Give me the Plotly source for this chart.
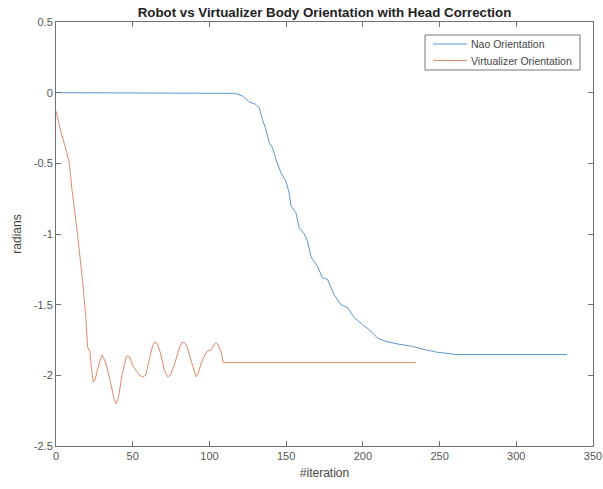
import plotly.graph_objects as go

# Nao orientation (blue)
nao_x = [1, 106, 112, 117, 121.6, 126, 130.3, 132.4, 134.6, 136.8, 139, 141.1, 143.3, 146.6,
         149.8, 152, 153.1, 156.4, 158.5, 161.8, 163.9, 166.1, 167.2, 170.4, 173.7, 176.9,
         181.3, 185.7, 190, 194.3, 199.7, 204, 209.5, 215, 223.6, 232.3, 241, 248.6, 256.2,
         260.6, 333]
nao_y = [0, 0, 0, -0.005, -0.024, -0.066, -0.083, -0.106, -0.19, -0.26, -0.354, -0.39, -0.47,
         -0.567, -0.626, -0.708, -0.80, -0.85, -0.956, -1.0, -1.05, -1.157, -1.18, -1.228,
         -1.31, -1.32, -1.43, -1.5, -1.52, -1.59, -1.64, -1.676, -1.735, -1.76, -1.78, -1.795,
         -1.82, -1.837, -1.846, -1.853, -1.853]

# Virtualizer orientation (orange)
vir_x = [0, 3, 6.5, 8.7, 10.4, 14, 17.5, 19.5, 20.6, 22.1, 23.3, 24.3, 25.5, 28, 30, 32, 33.6,
         36, 38, 39.3, 40.8, 43, 45.5, 46.7, 48, 50, 52.1, 54.5, 56.4, 58.5, 61, 63, 64.5, 66,
         68, 70.5, 72.7, 74.5, 77, 80, 82, 83.6, 85.5, 88, 90, 91.2, 92.5, 94.5, 96.6, 98.5,
         101, 103, 104.2, 105.5, 107.5, 109, 234.5]
vir_y = [-0.13, -0.27, -0.40, -0.50, -0.685, -1.0, -1.35, -1.6, -1.80, -1.83, -1.97, -2.05,
         -2.03, -1.92, -1.855, -1.9, -1.96, -2.08, -2.17, -2.2, -2.15, -2.0, -1.88, -1.86,
         -1.87, -1.93, -1.96, -2.0, -2.01, -2.0, -1.88, -1.79, -1.765, -1.775, -1.84, -1.96,
         -2.01, -2.0, -1.93, -1.82, -1.77, -1.766, -1.80, -1.9, -1.98, -2.01, -1.99, -1.92,
         -1.865, -1.83, -1.82, -1.78, -1.766, -1.78, -1.83, -1.91, -1.91]

series_names = ["Nao Orientation", "Virtualizer Orientation"]
series_colors = ["#5a96cf", "#e0896a"]

x_ticks = [0, 50, 100, 150, 200, 250, 300, 350]
y_ticks = [-2.5, -2, -1.5, -1, -0.5, 0, 0.5]
y_tick_text = ["-2.5", "-2", "-1.5", "-1", "-0.5", "0", "0.5"]

W, H = 603, 489
ML, MR, MT, MB = 56, 10, 22, 43
PW, PH = W - ML - MR, H - MT - MB

def px(xp):
    return (xp - ML) / PW

def py(yp):
    return (H - MB - yp) / PH

fig = go.Figure()
fig.add_trace(go.Scatter(x=nao_x, y=nao_y, mode="lines", name=series_names[0],
                         line=dict(color=series_colors[0], width=1)))
fig.add_trace(go.Scatter(x=vir_x, y=vir_y, mode="lines", name=series_names[1],
                         line=dict(color=series_colors[1], width=1)))

FONT = "Liberation Sans, Arial, sans-serif"
axis_common = dict(showline=True, linecolor="#707070", linewidth=1, mirror="ticks",
                   ticks="inside", ticklen=5, tickcolor="#707070", showgrid=False,
                   zeroline=False, automargin=False,
                   tickfont=dict(family=FONT, size=11, color="#555555"))

# Manual MATLAB-style legend box
shapes = [dict(type="rect", xref="paper", yref="paper",
               x0=px(425), x1=px(580), y0=py(70), y1=py(35),
               line=dict(color="#777777", width=1), fillcolor="white", layer="above")]
annotations = []
for i, (nm, col) in enumerate(zip(series_names, series_colors)):
    yy = 44 + i * 16.5
    shapes.append(dict(type="line", xref="paper", yref="paper",
                       x0=px(433), x1=px(467), y0=py(yy), y1=py(yy),
                       line=dict(color=col, width=1), layer="above"))
    annotations.append(dict(xref="paper", yref="paper", x=px(469), y=py(yy),
                            xanchor="left", yanchor="middle", showarrow=False,
                            text=nm, font=dict(family=FONT, size=10.5, color="#444444")))

fig.update_layout(
    width=W, height=H,
    margin=dict(l=ML, r=MR, t=MT, b=MB),
    paper_bgcolor="white", plot_bgcolor="white",
    title=dict(text="<b>Robot vs Virtualizer Body Orientation with Head Correction</b>",
               x=(ML + W - MR) / 2 / W, xanchor="center", y=1 - 12 / H, yanchor="middle",
               font=dict(family=FONT, size=13.3, color="#222222")),
    xaxis=dict(range=[0, 350], tickvals=x_ticks,
               title=dict(text="#iteration", standoff=7,
                          font=dict(family=FONT, size=12, color="#444444")),
               **axis_common),
    yaxis=dict(range=[-2.5, 0.5], tickvals=y_ticks, ticktext=y_tick_text,
               title=dict(text="radians", standoff=9,
                          font=dict(family=FONT, size=12, color="#444444")),
               **axis_common),
    shapes=shapes,
    annotations=annotations,
    showlegend=False,
)

fig.write_html("out.html")
